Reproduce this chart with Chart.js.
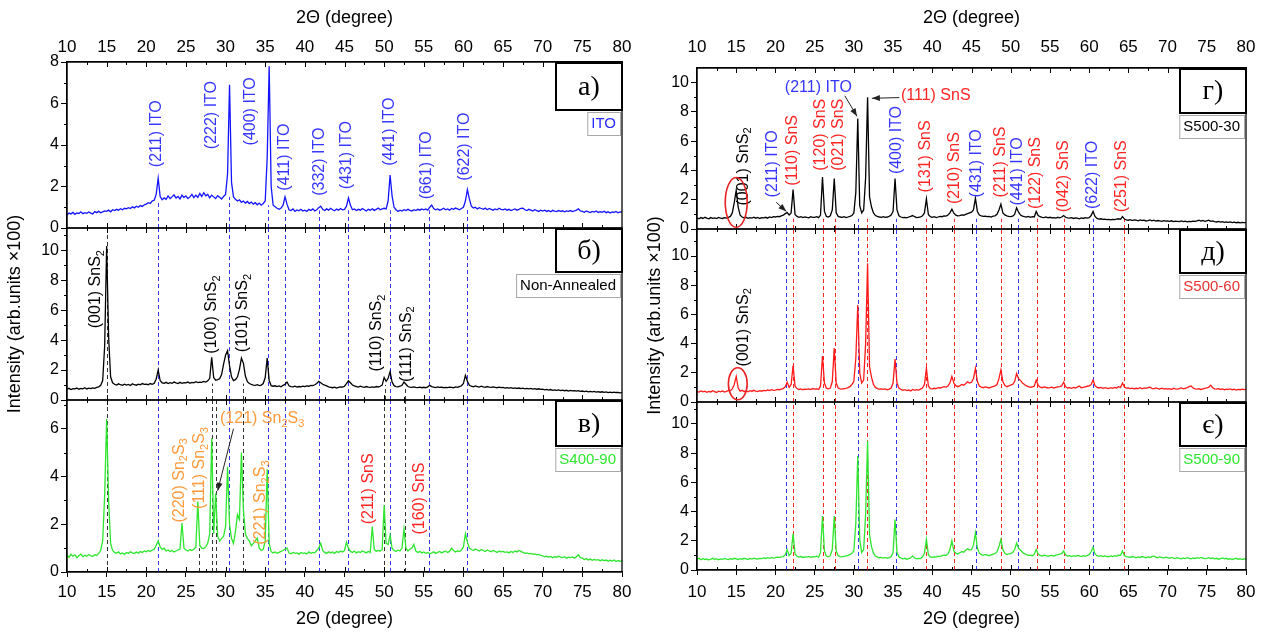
<!DOCTYPE html>
<html>
<head>
<meta charset="utf-8">
<script src="https://cdn.jsdelivr.net/npm/chart.js@4.4.1/dist/chart.umd.min.js"></script>
<style>
  body { margin: 0; background: #fff; }
  #wrap { position: relative; width: 1267px; height: 637px; }
  .col { position: absolute; top: 0; height: 637px; }
</style>
</head>
<body>
<div id="wrap">
  <div class="col" style="left:0;width:640px"><canvas id="leftChart"></canvas></div>
  <div class="col" style="left:640px;width:627px"><canvas id="rightChart"></canvas></div>
</div>
<script>
// 2-theta grid: every value below sits at thetaStart + i * thetaStep
const thetaStart = 10;
const thetaStep = 0.25;

// а) ITO substrate
const ito = [
  0.62,0.72,0.68,0.75,0.66,0.73,0.70,0.78,0.69,0.74,0.71,0.77,0.72,0.68,0.79,0.74,0.80,0.73,0.78,0.82,
  0.80,0.86,0.78,0.88,0.84,0.90,0.86,0.93,0.88,0.95,0.92,0.98,0.94,1.02,0.97,1.05,1.00,1.08,1.04,1.12,
  1.15,1.22,1.18,1.30,1.34,1.62,2.40,1.52,1.36,1.45,1.38,1.55,1.42,1.50,1.60,1.44,1.52,1.40,1.58,1.47,
  1.55,1.42,1.50,1.62,1.46,1.58,1.48,1.66,1.52,1.70,1.55,1.62,1.45,1.58,1.50,1.42,1.56,1.48,1.40,1.52,
  1.62,2.60,6.90,2.20,1.50,1.38,1.30,1.36,1.24,1.30,1.20,1.28,1.18,1.25,1.15,1.22,1.12,1.20,1.10,1.18,
  1.30,3.40,7.80,2.00,1.10,1.02,0.95,0.90,0.96,1.10,1.50,1.15,0.88,0.84,0.92,0.80,0.87,0.83,0.90,0.82,
  0.86,0.80,0.90,0.84,0.92,0.82,0.88,0.98,1.05,0.90,0.84,0.92,0.86,0.95,0.88,0.83,0.91,0.86,0.94,0.88,
  0.90,1.05,1.45,1.10,0.88,0.92,0.84,0.90,0.86,0.94,0.88,0.82,0.90,0.86,0.93,0.85,0.90,0.96,0.88,0.92,
  0.95,0.92,1.30,2.55,1.55,1.00,0.88,0.80,0.86,0.82,0.88,0.84,0.90,0.85,0.82,0.88,0.84,0.90,0.86,0.92,
  0.88,0.92,0.86,1.00,1.10,0.94,0.88,0.92,0.86,0.90,0.95,0.88,0.92,0.86,0.94,0.90,0.96,0.92,0.88,0.94,
  1.00,1.30,1.85,1.40,1.05,0.96,1.00,0.92,0.98,0.94,0.90,0.96,0.88,0.94,0.90,0.86,0.92,0.88,0.95,0.90,
  0.88,0.92,0.86,0.90,0.84,0.88,0.92,0.86,0.90,0.95,0.96,0.88,0.84,0.90,0.86,0.82,0.88,0.84,0.80,0.86,
  0.82,0.86,0.80,0.84,0.78,0.85,0.81,0.79,0.84,0.80,0.83,0.78,0.82,0.80,0.84,0.79,0.82,0.86,0.92,0.82,
  0.80,0.76,0.82,0.78,0.74,0.80,0.77,0.82,0.75,0.79,0.76,0.81,0.74,0.78,0.72,0.77,0.75,0.80,0.73,0.78,
  0.76
];

// б) non-annealed film
const nonAnnealed = [
  0.72,0.78,0.70,0.76,0.74,0.80,0.72,0.77,0.75,0.82,0.74,0.79,0.76,0.81,0.78,0.84,0.88,0.98,1.30,3.60,
  10.3,4.20,1.55,1.15,1.05,1.00,1.08,1.02,0.98,1.06,1.00,1.04,0.97,1.08,1.02,0.99,1.06,1.01,1.10,1.04,
  1.06,1.02,1.10,1.05,1.12,1.40,2.00,1.30,1.15,1.12,1.18,1.10,1.16,1.12,1.20,1.14,1.10,1.18,1.12,1.16,
  1.14,1.20,1.12,1.18,1.15,1.22,1.16,1.20,1.18,1.24,1.20,1.28,1.45,2.85,1.50,1.32,1.36,1.42,1.70,2.40,
  3.00,3.30,2.30,1.55,1.30,1.36,1.55,2.05,2.80,2.45,1.60,1.22,1.10,1.04,1.00,0.98,1.02,0.96,1.00,1.10,
  1.50,2.80,1.30,0.96,0.92,0.95,0.90,0.94,0.88,0.98,1.05,1.20,0.95,0.90,0.88,0.92,0.86,0.90,0.88,0.93,
  0.90,0.94,0.92,0.98,0.96,1.02,1.10,1.25,1.15,1.05,1.00,0.94,0.88,0.85,0.82,0.86,0.80,0.84,0.88,0.86,
  0.92,1.10,1.28,1.15,1.00,0.94,0.90,0.86,0.92,0.88,0.85,0.90,0.86,0.84,0.88,0.85,0.90,0.87,0.92,1.00,
  1.50,1.25,1.45,1.90,1.20,0.96,0.90,0.88,0.92,0.98,1.20,1.05,0.90,0.86,0.84,0.88,0.85,0.83,0.86,0.82,
  0.85,0.82,0.88,0.98,0.90,0.86,0.83,0.87,0.84,0.86,0.82,0.85,0.83,0.86,0.84,0.82,0.88,0.85,0.90,0.95,
  1.10,1.65,1.25,0.98,0.92,0.88,0.94,0.90,0.86,0.92,0.88,0.85,0.90,0.86,0.84,0.88,0.85,0.82,0.86,0.83,
  0.84,0.80,0.83,0.79,0.82,0.78,0.81,0.77,0.80,0.76,0.79,0.75,0.78,0.74,0.77,0.73,0.76,0.72,0.75,0.71,
  0.72,0.68,0.71,0.66,0.70,0.65,0.68,0.64,0.67,0.63,0.66,0.62,0.65,0.60,0.64,0.61,0.63,0.59,0.62,0.58,
  0.60,0.56,0.59,0.55,0.58,0.54,0.57,0.53,0.56,0.52,0.55,0.51,0.54,0.50,0.53,0.49,0.52,0.50,0.51,0.48,
  0.50
];

// в) S400-90
const s400_90 = [
  0.70,0.62,0.74,0.66,0.72,0.60,0.68,0.75,0.64,0.70,0.66,0.73,0.68,0.65,0.72,0.70,0.78,0.90,1.30,3.20,
  6.40,3.00,1.20,0.90,0.82,0.78,0.84,0.76,0.80,0.74,0.82,0.78,0.85,0.80,0.77,0.84,0.79,0.86,0.82,0.88,
  0.85,0.90,0.86,0.92,0.95,1.12,1.30,1.05,0.95,1.00,0.88,0.92,0.86,0.90,0.84,0.88,0.92,0.96,2.05,1.00,
  0.92,0.88,0.94,0.90,0.95,1.05,2.95,1.10,1.00,0.98,1.05,1.20,1.60,5.60,1.60,3.30,1.50,1.30,1.40,1.50,
  1.90,4.40,2.00,1.40,1.20,1.70,2.40,2.20,5.00,2.60,1.60,1.40,1.30,1.10,1.20,1.30,1.42,1.00,0.90,0.95,
  1.30,4.30,1.20,0.85,0.80,0.84,0.78,0.82,0.86,0.90,0.96,1.00,0.80,0.76,0.82,0.78,0.80,0.75,0.82,0.78,
  0.80,0.76,0.84,0.78,0.82,0.80,0.90,1.00,1.20,0.90,0.82,0.78,0.85,0.80,0.84,0.78,0.86,0.82,0.88,0.84,
  0.90,1.25,1.00,0.86,0.82,0.88,0.80,0.85,0.82,0.88,0.84,0.80,0.86,0.82,1.90,0.95,0.86,0.90,0.88,0.95,
  2.80,1.20,1.15,1.55,1.00,0.90,0.86,0.92,0.88,1.00,1.80,1.00,0.88,0.95,1.00,1.15,0.88,0.82,0.86,0.80,
  0.84,0.78,0.82,0.76,0.80,0.85,0.78,0.82,0.86,0.80,0.84,0.88,0.82,0.86,1.00,0.90,0.84,0.88,0.86,0.92,
  1.05,1.60,1.25,1.00,0.94,0.90,0.96,0.92,0.88,0.94,0.90,0.86,0.92,0.88,0.85,0.90,0.86,0.82,0.88,0.84,
  0.86,0.82,0.84,0.80,0.86,0.82,0.88,0.84,0.90,0.86,0.82,0.78,0.80,0.76,0.78,0.74,0.76,0.72,0.74,0.70,
  0.68,0.64,0.66,0.62,0.65,0.60,0.64,0.61,0.66,0.62,0.60,0.64,0.58,0.62,0.60,0.63,0.58,0.64,0.72,0.60,
  0.58,0.52,0.56,0.50,0.54,0.49,0.53,0.50,0.52,0.47,0.51,0.48,0.50,0.45,0.49,0.46,0.50,0.44,0.48,0.45,
  0.47
];

// г) S500-30
const s500_30 = [
  0.76,0.70,0.78,0.72,0.80,0.74,0.70,0.78,0.73,0.76,0.71,0.79,0.74,0.72,0.78,0.75,0.80,0.86,1.10,1.80,
  2.65,1.50,0.95,0.82,0.76,0.80,0.73,0.78,0.75,0.81,0.74,0.79,0.72,0.78,0.76,0.80,0.74,0.82,0.78,0.84,
  0.82,0.86,0.84,0.90,0.94,1.05,1.12,0.96,1.10,2.70,1.00,0.86,0.80,0.84,0.78,0.82,0.80,0.76,0.84,0.80,
  0.80,0.84,0.78,0.95,3.55,1.20,0.86,0.82,0.90,1.30,3.45,1.10,0.86,0.82,0.80,0.84,0.78,0.82,0.86,0.92,
  1.10,2.50,7.55,1.60,1.10,1.30,3.50,9.00,2.20,1.50,1.10,0.92,0.86,0.82,0.80,0.84,0.79,0.82,0.86,0.95,
  1.20,3.45,1.30,0.90,0.82,0.78,0.80,0.76,0.82,0.86,0.92,0.84,0.78,0.80,0.82,0.90,1.10,2.05,1.00,0.84,
  0.80,0.84,0.78,0.82,0.86,0.84,0.90,0.88,0.96,1.10,1.35,1.08,0.95,0.90,0.92,0.96,0.94,1.00,1.05,1.10,
  1.15,1.30,2.10,1.20,0.95,0.90,0.86,0.88,0.84,0.86,0.82,0.88,0.90,1.00,1.30,1.70,1.10,0.96,0.90,0.86,
  0.84,0.88,1.00,1.45,1.15,0.95,0.88,0.84,0.82,0.86,0.80,0.84,0.82,1.20,0.92,0.84,0.80,0.78,0.82,0.76,
  0.80,0.76,0.78,0.74,0.80,0.76,0.82,0.92,0.80,0.76,0.74,0.78,0.72,0.76,0.74,0.70,0.76,0.72,0.78,0.74,
  0.78,0.92,1.20,0.86,0.72,0.68,0.70,0.66,0.68,0.64,0.66,0.62,0.66,0.64,0.68,0.70,0.66,0.85,0.68,0.62,
  0.60,0.64,0.58,0.62,0.60,0.56,0.62,0.58,0.60,0.55,0.58,0.62,0.56,0.60,0.54,0.58,0.55,0.52,0.57,0.54,
  0.55,0.52,0.56,0.50,0.54,0.52,0.50,0.55,0.51,0.53,0.49,0.52,0.50,0.54,0.52,0.56,0.60,0.54,0.58,0.52,
  0.56,0.60,0.52,0.55,0.50,0.48,0.52,0.47,0.50,0.46,0.49,0.45,0.48,0.44,0.47,0.43,0.46,0.42,0.45,0.43,
  0.44
];

// д) S500-60
const s500_60 = [
  0.72,0.68,0.76,0.70,0.74,0.66,0.73,0.69,0.77,0.71,0.65,0.74,0.70,0.76,0.68,0.72,0.80,0.78,0.90,1.20,
  1.75,0.95,0.74,0.80,0.72,0.76,0.70,0.78,0.74,0.80,0.75,0.72,0.78,0.74,0.80,0.76,0.82,0.78,0.84,0.80,
  0.82,0.86,0.84,0.88,0.92,1.05,1.35,1.00,1.20,2.50,1.10,0.92,0.86,0.90,0.84,0.88,0.86,0.90,0.85,0.92,
  0.88,0.90,0.86,1.10,3.15,1.30,0.95,0.90,0.96,1.40,3.70,1.30,0.96,0.90,0.88,0.92,0.94,0.98,1.05,1.20,
  1.40,3.00,6.65,2.00,1.30,1.50,4.00,9.50,2.40,1.70,1.20,1.00,0.92,0.88,0.90,0.86,0.90,0.84,0.88,0.96,
  1.30,2.95,1.30,0.95,0.86,0.80,0.84,0.78,0.82,0.76,0.86,0.80,0.84,0.82,0.88,0.95,1.20,2.30,1.10,0.92,
  0.90,0.94,0.92,0.98,0.96,1.00,1.05,1.02,1.10,1.30,1.75,1.30,1.12,1.05,1.10,1.20,1.15,1.25,1.38,1.30,
  1.35,1.60,2.30,1.40,1.10,1.02,0.98,1.04,1.00,0.96,1.02,1.06,1.10,1.20,1.60,2.20,1.40,1.15,1.05,1.10,
  1.15,1.20,1.40,1.95,1.60,1.48,1.30,1.20,1.10,1.05,1.00,1.04,1.08,1.50,1.15,1.02,0.98,1.04,1.00,0.96,
  0.98,1.02,0.96,1.00,1.04,1.06,1.10,1.35,1.05,0.96,0.98,0.94,1.00,0.96,1.02,1.10,0.98,1.00,1.04,1.08,
  1.10,1.20,1.50,1.12,1.00,0.96,1.00,0.94,0.98,0.95,0.92,0.98,0.94,1.00,0.96,1.05,1.00,1.30,1.02,0.95,
  0.96,0.92,0.95,0.90,0.94,0.92,0.98,0.90,0.96,0.94,0.98,1.02,0.94,0.90,0.96,0.92,0.88,0.94,0.90,0.92,
  0.88,0.92,0.86,0.94,0.90,0.88,0.92,0.96,0.90,0.94,0.98,1.05,1.10,0.96,0.90,0.88,0.92,0.86,0.90,0.94,
  0.96,1.02,1.15,0.98,0.90,0.88,0.92,0.86,0.90,0.84,0.88,0.86,0.90,0.84,0.88,0.82,0.86,0.84,0.88,0.85,
  0.86
];

// є) S500-90
const s500_90 = [
  0.74,0.80,0.70,0.78,0.72,0.76,0.68,0.75,0.80,0.72,0.77,0.70,0.76,0.73,0.79,0.74,0.71,0.78,0.74,0.80,
  0.76,0.72,0.78,0.74,0.80,0.76,0.72,0.79,0.75,0.81,0.77,0.74,0.80,0.78,0.83,0.79,0.84,0.80,0.86,0.82,
  0.84,0.88,0.86,0.90,0.92,1.05,1.40,1.00,1.15,2.50,1.10,0.94,0.88,0.92,0.86,0.90,0.88,0.93,0.87,0.92,
  0.90,0.94,0.88,1.20,3.70,1.30,0.96,0.90,0.98,1.40,3.70,1.30,0.98,0.92,0.90,0.94,0.96,1.00,1.05,1.15,
  1.30,3.20,7.80,2.10,1.20,1.40,3.80,8.85,2.40,1.60,1.15,0.95,0.88,0.84,0.86,0.82,0.86,0.80,0.84,0.92,
  1.20,3.45,1.20,0.90,0.82,0.76,0.80,0.74,0.78,0.84,0.95,0.82,0.76,0.80,0.78,0.90,1.15,2.10,1.05,0.90,
  0.86,0.90,0.88,0.94,0.92,0.98,1.02,1.00,1.10,1.40,2.00,1.30,1.15,1.10,1.18,1.25,1.22,1.35,1.45,1.38,
  1.40,1.70,2.55,1.50,1.15,1.05,1.00,1.06,1.02,0.98,1.04,1.08,1.12,1.25,1.60,2.10,1.40,1.15,1.06,1.10,
  1.12,1.20,1.40,1.85,1.50,1.35,1.20,1.12,1.05,1.00,1.02,0.98,1.05,1.40,1.10,1.00,0.96,1.02,0.98,0.94,
  0.98,1.00,0.96,1.02,1.05,1.08,1.12,1.30,1.04,0.96,0.98,0.92,0.98,0.94,1.00,0.96,0.92,0.98,0.94,1.00,
  1.05,1.25,1.55,1.10,0.98,0.94,0.98,0.92,0.96,0.94,0.90,0.96,0.92,0.98,0.94,1.02,1.00,1.30,0.98,0.92,
  0.90,0.86,0.92,0.88,0.84,0.90,0.86,0.92,0.88,0.84,0.90,0.86,0.92,0.95,0.88,0.84,0.90,0.86,0.82,0.88,
  0.84,0.80,0.86,0.82,0.78,0.84,0.80,0.76,0.82,0.78,0.84,0.80,0.76,0.82,0.78,0.84,0.80,0.86,0.82,0.78,
  0.80,0.84,0.78,0.82,0.76,0.80,0.74,0.78,0.82,0.76,0.80,0.74,0.78,0.72,0.76,0.80,0.74,0.78,0.72,0.76,
  0.75
];

// reference peak positions (dashed guide lines)
const itoLinesLeft = [21.5, 30.4, 35.4, 37.5, 41.8, 45.4, 50.7, 55.6, 60.4];
const itoFootA = [1.3, 1.5, 1.1, 0.9, 0.85, 0.85, 0.85, 0.85, 0.95];
const sns2LinesB = [15.0, 28.3, 32.2, 50.1, 52.6];
const sns2FootB = [null, 1.1, 1.1, 1.0, 0.9];
const phaseLinesC = [15.0, 26.6, 28.3, 28.8, 32.2, 50.0, 52.6];
const phaseFootC = [null, 1.0, null, null, null, null, null];
const itoLinesRight = [21.4, 30.5, 35.4, 45.6, 50.9, 60.5];
const snsLinesRight = [22.2, 26.1, 27.6, 31.7, 39.2, 42.8, 48.7, 53.4, 56.8, 64.4];

// peak labels: [2theta, intensity where the text starts, text]
const labelsA = [
  [21.3, 2.93, '(211) ITO'], [28.3, 3.8, '(222) ITO'], [33.2, 3.98, '(400) ITO'],
  [37.5, 1.8, '(411) ITO'], [41.8, 1.55, '(332) ITO'], [45.3, 1.87, '(431) ITO'],
  [50.7, 3.0, '(441) ITO'], [55.3, 1.38, '(661) ITO'], [60.2, 2.28, '(622) ITO']
];
const labelsB = [
  [13.6, 4.8, '(001) SnS_2'], [28.3, 3.1, '(100) SnS_2'], [32.2, 3.2, '(101) SnS_2'],
  [49.1, 1.9, '(110) SnS_2'], [52.8, 1.2, '(111) SnS_2']
];
const labelsC_Sn2S3 = [[24.15, 2.07, '(220) Sn_2S_3'], [26.7, 2.64, '(111) Sn_2S_3'], [34.4, 1.14, '(221) Sn_2S_3']];
const labelsC_SnS = [[48.1, 2.0, '(211) SnS'], [54.5, 1.57, '(160) SnS']];
const labelsG_ITO = [[19.6, 2.16, '(211) ITO'], [35.5, 3.75, '(400) ITO'], [45.65, 2.16, '(431) ITO'], [50.9, 1.6, '(441) ITO'], [60.4, 1.36, '(622) ITO']];
const labelsG_SnS = [
  [22.2, 2.95, '(110) SnS'], [25.8, 3.98, '(120) SnS'], [28.1, 3.98, '(021) SnS'], [39.1, 2.5, '(131) SnS'],
  [42.9, 1.7, '(210) SnS'], [48.7, 2.16, '(211) SnS'], [53.2, 1.36, '(122) SnS'], [56.8, 1.14, '(042) SnS'], [64.2, 1.14, '(251) SnS']
];

const FONT = '"Liberation Sans", Arial, sans-serif';
const BLUE = '#3636ff', RED = '#ff2424', ORANGE = '#ff9a3c', GREEN = '#2ee62e';

const toPoints = ys => ys.map((y, i) => ({ x: thetaStart + i * thetaStep, y: y }));

function drawRich(ctx, text, x, y, size) {
  const parts = text.split(/_(\d)/);
  let cx = x;
  parts.forEach((seg, i) => {
    if (!seg) return;
    const sub = i % 2 === 1;
    ctx.font = (sub ? Math.round(size * 0.68) : size) + 'px ' + FONT;
    ctx.fillText(seg, cx, sub ? y + size * 0.32 : y);
    cx += ctx.measureText(seg).width;
  });
}

function drawArrow(ctx, x1, y1, x2, y2) {
  ctx.beginPath(); ctx.moveTo(x1, y1); ctx.lineTo(x2, y2); ctx.stroke();
  const a = Math.atan2(y2 - y1, x2 - x1), L = 8, W = 3;
  ctx.beginPath();
  ctx.moveTo(x2, y2);
  ctx.lineTo(x2 - L * Math.cos(a) + W * Math.sin(a), y2 - L * Math.sin(a) - W * Math.cos(a));
  ctx.lineTo(x2 - L * Math.cos(a) - W * Math.sin(a), y2 - L * Math.sin(a) + W * Math.cos(a));
  ctx.closePath(); ctx.fill();
}

function xrdPlugin(cfg) {
  return {
    id: 'xrd',
    beforeDatasetsDraw(chart) {
      const ctx = chart.ctx, xs = chart.scales.x;
      ctx.save();
      ctx.lineWidth = 1;
      ctx.setLineDash([4, 3]);
      cfg.panels.forEach(p => {
        const ys = chart.scales[p.id];
        p.lines.forEach(l => {
          const px = Math.round(xs.getPixelForValue(l.x)) + 0.5;
          ctx.strokeStyle = l.color;
          ctx.beginPath();
          ctx.moveTo(px, ys.bottom);
          ctx.lineTo(px, l.top == null ? ys.top : ys.getPixelForValue(l.top));
          ctx.stroke();
        });
      });
      ctx.restore();
    },
    afterDatasetsDraw(chart) {
      const ctx = chart.ctx, xs = chart.scales.x, area = chart.chartArea;
      ctx.save();
      cfg.panels.forEach(p => {
        const ys = chart.scales[p.id];
        // frame + minor ticks
        ctx.strokeStyle = '#000';
        ctx.lineWidth = 1.3;
        ctx.strokeRect(area.left, ys.top, area.right - area.left, ys.bottom - ys.top);
        ctx.lineWidth = 1;
        ctx.beginPath();
        for (let v = 12.5; v < 80; v += 2.5) {
          const px = Math.round(xs.getPixelForValue(v)) + 0.5;
          const len = v % 5 === 0 ? 5 : 3;
          ctx.moveTo(px, ys.top); ctx.lineTo(px, ys.top + len);
          ctx.moveTo(px, ys.bottom); ctx.lineTo(px, ys.bottom - len);
        }
        for (let v = 1; v < p.max; v += 2) {
          const py = Math.round(ys.getPixelForValue(v)) + 0.5;
          ctx.moveTo(area.left, py); ctx.lineTo(area.left - 3, py);
        }
        ctx.stroke();

        // peak labels
        ctx.textAlign = 'left';
        ctx.textBaseline = 'middle';
        p.labels.forEach(l => {
          const px = xs.getPixelForValue(l.x), py = ys.getPixelForValue(l.y);
          ctx.fillStyle = l.color;
          ctx.save();
          ctx.translate(px, py);
          if (!l.flat) ctx.rotate(-Math.PI / 2);
          drawRich(ctx, l.text, 0, 0, 16);
          ctx.restore();
        });
        (p.arrows || []).forEach(a => {
          ctx.strokeStyle = '#222'; ctx.fillStyle = '#222'; ctx.lineWidth = 1;
          drawArrow(ctx, xs.getPixelForValue(a[0]), ys.getPixelForValue(a[1]),
                         xs.getPixelForValue(a[2]), ys.getPixelForValue(a[3]));
        });
        (p.rings || []).forEach(r => {
          const cx = xs.getPixelForValue(r[0]), cy = ys.getPixelForValue(r[1]);
          const rx = xs.getPixelForValue(r[0] + r[2]) - cx, ry = cy - ys.getPixelForValue(r[1] + r[3]);
          ctx.strokeStyle = '#e82020'; ctx.lineWidth = 1.6;
          ctx.beginPath(); ctx.ellipse(cx, cy, rx, ry, 0, 0, Math.PI * 2); ctx.stroke();
        });

        // panel letter box
        const bw = 66, bh = p.boxH, bx = area.right - bw, by = ys.top + 1;
        ctx.fillStyle = '#fff';
        ctx.fillRect(bx, by, bw, bh);
        ctx.lineWidth = 2; ctx.strokeStyle = '#000';
        ctx.strokeRect(bx, by, bw, bh);
        ctx.fillStyle = '#000';
        ctx.textAlign = 'center';
        ctx.font = '28px "Liberation Serif", "Times New Roman", serif';
        ctx.fillText(p.name, bx + bw / 2, by + bh / 2 + 1);

        // sample name box
        ctx.font = '15px ' + FONT;
        const tw = ctx.measureText(p.sample).width + 8;
        const sx = area.right - 2 - tw, sy = by + bh + 2;
        ctx.fillStyle = '#fff'; ctx.fillRect(sx, sy, tw, 23);
        ctx.lineWidth = 1; ctx.strokeStyle = '#a8a8a8';
        ctx.strokeRect(sx + 0.5, sy + 0.5, tw, 23);
        ctx.fillStyle = p.sampleColor;
        ctx.fillText(p.sample, sx + tw / 2, sy + 12);
      });
      ctx.restore();
    }
  };
}

function makeColumn(canvasId, cfg) {
  const tickFont = { family: FONT, size: 17 };
  const yTickFont = { family: FONT, size: 16 };
  const titleFont = { family: FONT, size: 18 };
  const scales = {
    x: {
      type: 'linear', position: 'bottom', min: 10, max: 80,
      ticks: { stepSize: 5, autoSkip: false, maxRotation: 0, color: '#000', font: tickFont, padding: cfg.bottomTickPad },
      grid: { drawOnChartArea: false, tickLength: 5, color: '#000' },
      border: { color: '#000', width: 1.3 },
      title: { display: true, text: '2Θ (degree)', color: '#000', font: titleFont, padding: { top: 0, bottom: 7 } },
      afterFit: s => { s.height = cfg.bottomH; }
    },
    xTop: {
      type: 'linear', position: 'top', min: 10, max: 80,
      ticks: { stepSize: 5, autoSkip: false, maxRotation: 0, color: '#000', font: tickFont, padding: cfg.topTickPad },
      grid: { display: false, drawTicks: false },
      border: { color: '#000', width: 1.3 },
      title: { display: true, text: '2Θ (degree)', color: '#000', font: titleFont, padding: { top: 7, bottom: 0 } },
      afterFit: s => { s.height = cfg.topH; }
    }
  };
  // stacked y axes: the last one defined ends up on top
  cfg.panels.slice().reverse().forEach(p => {
    scales[p.id] = {
      type: 'linear', position: 'left', stack: 'col', stackWeight: p.weight,
      min: 0, max: p.max,
      ticks: { stepSize: 2, includeBounds: false, autoSkip: false, color: '#000', font: yTickFont, padding: 2 },
      grid: { drawOnChartArea: false, tickLength: 6, color: '#000' },
      border: { color: '#000', width: 1.3 },
      title: { display: !!p.title, text: 'Intensity (arb.units ×100)', color: '#000', font: titleFont, padding: { top: cfg.titlePad, bottom: 0 } },
      afterFit: s => { s.width = cfg.yWidth; }
    };
  });

  new Chart(document.getElementById(canvasId), {
    type: 'line',
    data: {
      datasets: cfg.panels.map(p => ({
        data: toPoints(p.data), xAxisID: 'x', yAxisID: p.id,
        borderColor: p.color, borderWidth: 1.3, pointRadius: 0, tension: 0, fill: false
      }))
    },
    options: {
      responsive: true, maintainAspectRatio: false, animation: false, devicePixelRatio: 1,
      layout: { padding: { left: 0, right: cfg.padRight, top: 0, bottom: 0 } },
      plugins: { legend: { display: false }, tooltip: { enabled: false } },
      scales: scales
    },
    plugins: [xrdPlugin(cfg)]
  });
}

const lbl = (arr, color) => arr.map(a => ({ x: a[0], y: a[1], text: a[2], color: color }));

makeColumn('leftChart', {
  padRight: 18, yWidth: 67, topH: 62, bottomH: 65, titlePad: 4, topTickPad: 4, bottomTickPad: 5,
  panels: [
    {
      id: 'yA', max: 8, weight: 166, data: ito, color: '#1414ff', name: 'a)', boxH: 47, sample: 'ITO', sampleColor: '#2a2aff',
      lines: itoLinesLeft.map((x, i) => ({ x: x, top: itoFootA[i], color: BLUE })),
      labels: lbl(labelsA, BLUE)
    },
    {
      id: 'yB', max: 11.5, weight: 172, data: nonAnnealed, color: '#000', name: 'б)', boxH: 43, sample: 'Non-Annealed', sampleColor: '#000', title: true,
      lines: itoLinesLeft.map(x => ({ x: x, top: null, color: BLUE }))
        .concat(sns2LinesB.map((x, i) => ({ x: x, top: sns2FootB[i], color: '#333' }))),
      labels: lbl(labelsB, '#000')
    },
    {
      id: 'yC', max: 7.2, weight: 172, data: s400_90, color: GREEN, name: 'в)', boxH: 45, sample: 'S400-90', sampleColor: GREEN,
      lines: itoLinesLeft.map(x => ({ x: x, top: null, color: BLUE }))
        .concat(phaseLinesC.map((x, i) => ({ x: x, top: phaseFootC[i], color: '#333' }))),
      labels: lbl(labelsC_Sn2S3, ORANGE).concat(lbl(labelsC_SnS, RED))
        .concat([{ x: 29.3, y: 6.43, text: '(121) Sn_2S_3', color: ORANGE, flat: true }]),
      arrows: [[31.0, 6.0, 29.0, 3.4]]
    }
  ]
});

makeColumn('rightChart', {
  padRight: 21, yWidth: 57, topH: 68, bottomH: 67, titlePad: 4, topTickPad: 10, bottomTickPad: 7,
  panels: [
    {
      id: 'yG', max: 11, weight: 161, data: s500_30, color: '#000', name: 'г)', boxH: 44, sample: 'S500-30', sampleColor: '#000',
      lines: itoLinesRight.map(x => ({ x: x, top: 0.7, color: BLUE }))
        .concat(snsLinesRight.map(x => ({ x: x, top: 0.7, color: RED }))),
      labels: [{ x: 15.9, y: 1.6, text: '(001) SnS_2', color: '#000' }]
        .concat(lbl(labelsG_ITO, BLUE)).concat(lbl(labelsG_SnS, RED))
        .concat([{ x: 21.2, y: 9.66, text: '(211) ITO', color: BLUE, flat: true },
                 { x: 36.0, y: 9.14, text: '(111) SnS', color: RED, flat: true }]),
      arrows: [[28.85, 9.1, 30.4, 7.7], [35.8, 8.98, 32.3, 8.93], [20.1, 1.82, 21.4, 1.2]],
      rings: [[15.0, 1.82, 1.4, 1.7]]
    },
    {
      id: 'yD', max: 11.85, weight: 173, data: s500_60, color: '#ff1a1a', name: 'д)', boxH: 43, sample: 'S500-60', sampleColor: '#e83030', title: true,
      lines: itoLinesRight.map(x => ({ x: x, top: null, color: BLUE }))
        .concat(snsLinesRight.map(x => ({ x: x, top: null, color: RED }))),
      labels: [{ x: 15.9, y: 2.44, text: '(001) SnS_2', color: '#000' }],
      rings: [[15.2, 1.25, 1.2, 1.1]]
    },
    {
      id: 'yE', max: 11.5, weight: 168, data: s500_90, color: GREEN, name: 'є)', boxH: 43, sample: 'S500-90', sampleColor: GREEN,
      lines: itoLinesRight.map(x => ({ x: x, top: null, color: BLUE }))
        .concat(snsLinesRight.map(x => ({ x: x, top: null, color: RED }))),
      labels: []
    }
  ]
});
</script>
</body>
</html>
